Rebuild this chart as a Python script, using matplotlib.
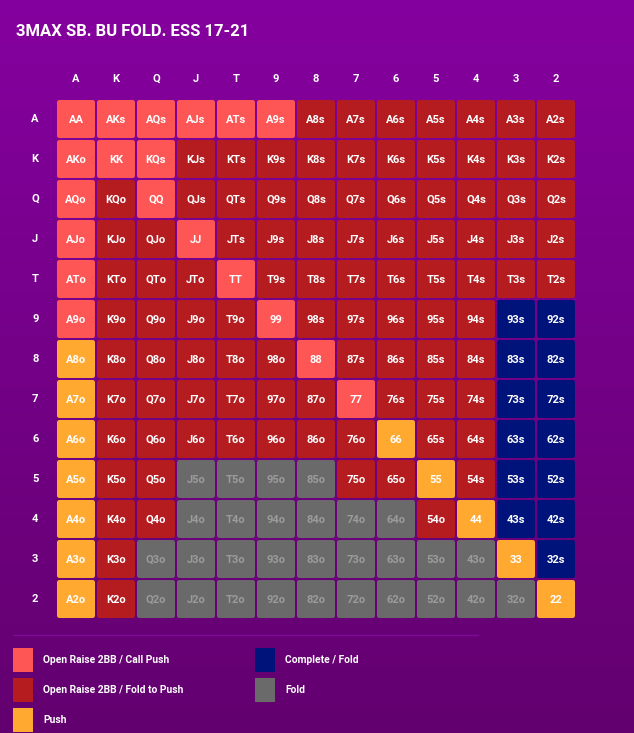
"""
3MAX SB chart: BU fold, ESS 17-21 preflop range grid
"""

import numpy as np
import matplotlib
matplotlib.use('Agg')
import matplotlib.pyplot as plt
from matplotlib.patches import FancyBboxPatch, Rectangle
from matplotlib.colors import LinearSegmentedColormap

#---------------------------------------------------------------------------------------------------
# Data
#---------------------------------------------------------------------------------------------------

title = '3MAX SB. BU FOLD. ESS 17-21'
ranks = ['A', 'K', 'Q', 'J', 'T', '9', '8', '7', '6', '5', '4', '3', '2']

# action code per cell, one string per row (L = raise/call, D = raise/fold, P = push,
# C = complete/fold, F = fold)
grid_rows = ['LLLLLLDDDDDDD',
             'LLLDDDDDDDDDD',
             'LDLDDDDDDDDDD',
             'LDDLDDDDDDDDD',
             'LDDDLDDDDDDDD',
             'LDDDDLDDDDDCC',
             'PDDDDDLDDDDCC',
             'PDDDDDDLDDDCC',
             'PDDDDDDDPDDCC',
             'PDDFFFFDDPDCC',
             'PDDFFFFFFDPCC',
             'PDFFFFFFFFFPC',
             'PDFFFFFFFFFFP']

actions = ['L', 'D', 'P', 'C', 'F']
action_labels = {'L': 'Open Raise 2BB / Call Push',
                 'D': 'Open Raise 2BB / Fold to Push',
                 'P': 'Push',
                 'C': 'Complete / Fold',
                 'F': 'Fold'}
action_colors = {'L': '#fe5555', 'D': '#b41c1f', 'P': '#ffa930',
                 'C': '#00137a', 'F': '#6a6a6a'}
text_colors = {'L': 'white', 'D': 'white', 'P': 'white', 'C': 'white', 'F': '#9b9b9b'}

#---------------------------------------------------------------------------------------------------
# Plot
#---------------------------------------------------------------------------------------------------

plt.rcParams['font.family'] = ['Roboto', 'DejaVu Sans']
W, H = 634, 733
fig = plt.figure(figsize=(W / 100, H / 100), dpi=100)

# background gradient
bg = fig.add_axes([0, 0, 1, 1])
cmap = LinearSegmentedColormap.from_list('bg', ['#85009f', '#63006f'])
bg.imshow(np.linspace(0, 1, 256).reshape(-1, 1), aspect='auto', cmap=cmap,
          extent=[0, W, H, 0])
bg.set_xlim(0, W)
bg.set_ylim(H, 0)
bg.axis('off')

bg.text(16, 32, title, color='white', fontsize=12, fontweight='bold', va='center', ha='left')

# grid axes: one unit per cell
n = len(ranks)
gx0, gy0, pitch = 56, 99, 40
ax = fig.add_axes([gx0 / W, 1 - (gy0 + n * pitch) / H, n * pitch / W, n * pitch / H])
ax.set_xlim(0, n)
ax.set_ylim(n, 0)
ax.axis('off')

gap = 0.025
for i, row in enumerate(grid_rows):
    for j, code in enumerate(row):
        if i == j:
            label = ranks[i] + ranks[j]
        elif j > i:
            label = ranks[i] + ranks[j] + 's'
        else:
            label = ranks[j] + ranks[i] + 'o'
        box = FancyBboxPatch((j + gap + 0.05, i + gap + 0.05), 1 - 2 * gap - 0.1, 1 - 2 * gap - 0.1,
                             boxstyle='round,pad=0.05,rounding_size=0.06',
                             fc=action_colors[code], ec='none')
        ax.add_patch(box)
        ax.text(j + 0.5, i + 0.52, label, color=text_colors[code], fontsize=8,
                fontweight='bold', ha='center', va='center')

for k, r in enumerate(ranks):
    ax.text(k + 0.5, -0.5, r, color='white', fontsize=8, fontweight='bold',
            ha='center', va='center', clip_on=False)
    ax.text(-0.52, k + 0.5, r, color='white', fontsize=8, fontweight='bold',
            ha='center', va='center', clip_on=False)

# legend
bg.plot([13, 478], [635, 635], color='#7c0a94', lw=1)
legend_pos = {'L': (13, 660), 'D': (13, 690), 'P': (13, 720),
              'C': (255, 660), 'F': (255, 690)}
for code in actions:
    x, y = legend_pos[code]
    bg.add_patch(Rectangle((x, y - 12), 20, 24, fc=action_colors[code], ec='none'))
    bg.text(x + 30, y, action_labels[code], color='white', fontsize=7.4, fontweight='bold',
            ha='left', va='center')

plt.savefig('out.png', dpi=100)
